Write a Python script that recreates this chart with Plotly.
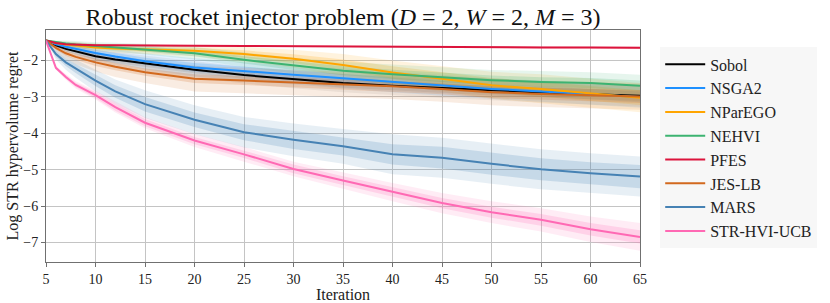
import plotly.graph_objects as go

iterations = [5, 6, 7, 8, 10, 12, 15, 20, 25, 30, 35, 40, 45, 50, 55, 60, 65]

names = ["Sobol", "NSGA2", "NParEGO", "NEHVI", "PFES", "JES-LB", "MARS", "STR-HVI-UCB"]
colors = ["#000000", "#1E90FF", "#FFA500", "#3CB371", "#DC143C", "#D2691E", "#4682B4", "#FF69B4"]
band_rgb = ["128,128,128", "30,144,255", "255,165,0", "60,179,113", "220,20,60", "210,105,30", "70,130,180", "255,105,180"]

sobol_mean = [-1.45, -1.58, -1.68, -1.75, -1.88, -1.97, -2.08, -2.25, -2.40, -2.52, -2.62, -2.69, -2.76, -2.83, -2.88, -2.93, -2.97]
sobol_inner = [0, .05, .07, .08, .10, .10, .10, .10, .10, .10, .12, .12, .12, .13, .13, .14, .14]
sobol_outer = [0, .10, .13, .15, .18, .20, .22, .22, .23, .24, .25, .26, .27, .27, .28, .28, .30]

nsga2_mean = [-1.45, -1.55, -1.62, -1.68, -1.79, -1.89, -2.02, -2.19, -2.30, -2.39, -2.49, -2.59, -2.69, -2.78, -2.85, -2.92, -3.00]
nsga2_inner = [0, .04, .06, .07, .09, .10, .10, .12, .12, .12, .12, .13, .13, .13, .14, .14, .15]
nsga2_outer = [0, .08, .12, .14, .18, .20, .22, .25, .25, .26, .27, .28, .28, .29, .30, .30, .30]

nparego_mean = [-1.45, -1.52, -1.56, -1.59, -1.64, -1.67, -1.70, -1.73, -1.82, -1.95, -2.12, -2.33, -2.50, -2.68, -2.78, -2.90, -3.02]
nparego_inner = [0, .03, .04, .05, .05, .06, .06, .08, .10, .12, .15, .17, .18, .20, .20, .20, .20]
nparego_outer = [0, .06, .08, .10, .10, .12, .12, .15, .20, .25, .30, .33, .35, .37, .40, .40, .40]

nehvi_mean = [-1.45, -1.50, -1.53, -1.56, -1.60, -1.63, -1.68, -1.80, -1.98, -2.14, -2.28, -2.38, -2.46, -2.54, -2.59, -2.62, -2.69]
nehvi_inner = [0, .03, .04, .05, .05, .06, .07, .08, .10, .12, .12, .13, .13, .13, .13, .14, .14]
nehvi_outer = [0, .06, .08, .10, .10, .12, .14, .17, .20, .22, .25, .27, .28, .28, .30, .30, .30]

pfes_mean = [-1.45, -1.52, -1.55, -1.56, -1.58, -1.58, -1.59, -1.59, -1.60, -1.61, -1.62, -1.62, -1.63, -1.63, -1.64, -1.64, -1.65]
pfes_inner = [0, .01, .01, .01, .01, .01, .01, .01, .01, .01, .01, .01, .01, .01, .01, .01, .01]
pfes_outer = [0, .02, .02, .02, .02, .02, .02, .02, .02, .02, .02, .03, .03, .03, .03, .03, .03]

jeslb_mean = [-1.45, -1.65, -1.80, -1.90, -2.05, -2.17, -2.32, -2.50, -2.55, -2.60, -2.66, -2.71, -2.78, -2.87, -2.92, -2.96, -2.99]
jeslb_inner = [0, .05, .07, .08, .10, .10, .10, .12, .12, .13, .14, .15, .15, .16, .17, .17, .18]
jeslb_outer = [0, .10, .15, .20, .25, .28, .30, .35, .35, .35, .35, .35, .35, .36, .36, .36, .36]

mars_mean = [-1.45, -1.82, -2.05, -2.22, -2.55, -2.85, -3.20, -3.63, -3.97, -4.18, -4.36, -4.58, -4.67, -4.84, -4.99, -5.10, -5.19]
mars_inner = [0, .08, .10, .12, .15, .17, .20, .20, .22, .25, .25, .28, .30, .30, .30, .30, .32]
mars_outer = [0, .15, .20, .25, .30, .33, .38, .40, .42, .45, .48, .55, .55, .55, .55, .55, .55]

strhvi_mean = [-1.45, -2.20, -2.45, -2.67, -2.95, -3.28, -3.71, -4.20, -4.58, -4.98, -5.30, -5.62, -5.92, -6.17, -6.38, -6.64, -6.85]
strhvi_inner = [0, .03, .05, .06, .08, .10, .10, .10, .10, .12, .12, .13, .14, .15, .16, .17, .18]
strhvi_outer = [0, .05, .08, .10, .12, .15, .15, .18, .20, .20, .22, .25, .28, .30, .32, .35, .38]

means = [sobol_mean, nsga2_mean, nparego_mean, nehvi_mean, pfes_mean, jeslb_mean, mars_mean, strhvi_mean]
inners = [sobol_inner, nsga2_inner, nparego_inner, nehvi_inner, pfes_inner, jeslb_inner, mars_inner, strhvi_inner]
outers = [sobol_outer, nsga2_outer, nparego_outer, nehvi_outer, pfes_outer, jeslb_outer, mars_outer, strhvi_outer]

x_ticks = [5, 10, 15, 20, 25, 30, 35, 40, 45, 50, 55, 60, 65]
y_ticks = [-2, -3, -4, -5, -6, -7]

FONT = "Liberation Serif"

fig = go.Figure()

for name, rgb, m, inn, out in zip(names, band_rgb, means, inners, outers):
    for hw, alpha in ((out, 0.13), (inn, 0.2)):
        up = [a + b for a, b in zip(m, hw)]
        lo = [a - b for a, b in zip(m, hw)]
        fig.add_trace(go.Scatter(
            x=iterations + iterations[::-1], y=up + lo[::-1],
            fill="toself", fillcolor=f"rgba({rgb},{alpha})",
            line=dict(width=0), mode="lines", hoverinfo="skip", showlegend=False))

for name, c, m in zip(names, colors, means):
    fig.add_trace(go.Scatter(x=iterations, y=m, mode="lines", name=name,
                             line=dict(color=c, width=2)))

axis_common = dict(showgrid=True, gridcolor="#c4c4c4", gridwidth=1,
                   showline=True, linecolor="#707070", linewidth=1, mirror=True,
                   ticks="outside", ticklen=4, tickcolor="#707070", zeroline=False,
                   automargin=False,
                   tickfont=dict(family=FONT, size=14, color="#222"))

fig.update_xaxes(range=[5, 65], tickvals=x_ticks,
                 title=dict(text="Iteration", font=dict(family=FONT, size=16, color="#222"), standoff=0),
                 **axis_common)
fig.update_yaxes(range=[-7.54, -1.16], tickvals=y_ticks,
                 title=dict(text="Log STR hypervolume regret", font=dict(family=FONT, size=16, color="#222"), standoff=0),
                 **axis_common)

fig.update_layout(
    width=830, height=303,
    margin=dict(l=46, r=190, t=30, b=41, autoexpand=False),
    plot_bgcolor="white", paper_bgcolor="white",
    font=dict(family=FONT, color="#222"),
    title=dict(text="Robust rocket injector problem (<i>D</i> = 2, <i>W</i> = 2, <i>M</i> = 3)",
               x=343 / 830, xanchor="center", y=1 - 17 / 303, yanchor="middle",
               font=dict(family=FONT, size=24, color="#111")),
    legend=dict(x=1.034, y=0.925, xanchor="left", yanchor="top",
                bgcolor="#f7f7f7", borderwidth=0, itemwidth=40,
                font=dict(family=FONT, size=16, color="#222")),
    showlegend=True,
)

fig.write_html("out.html", config={"displayModeBar": False},
               post_script="document.body.style.margin='0';")
